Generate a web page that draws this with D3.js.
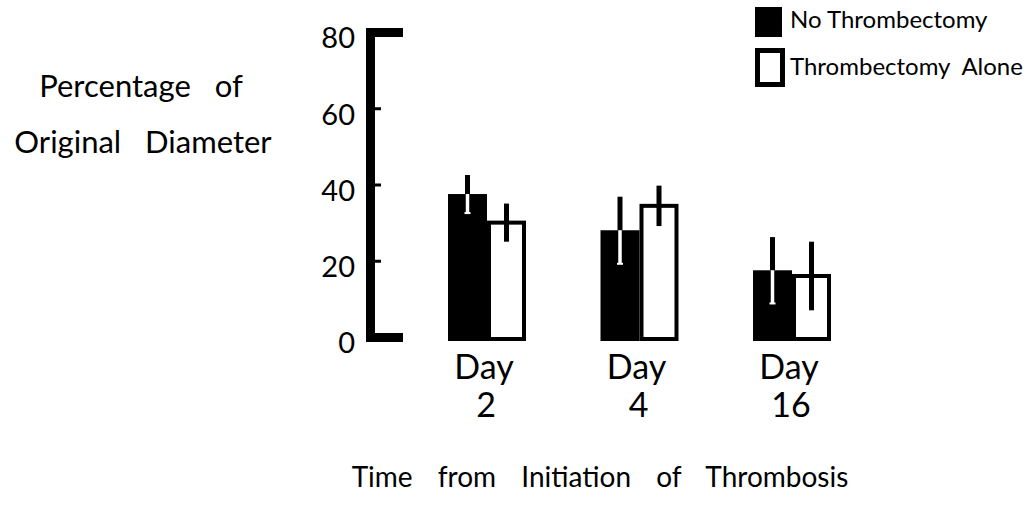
<!DOCTYPE html>
<html>
<head>
<meta charset="utf-8">
<script src="https://cdn.jsdelivr.net/npm/d3@7"></script>
<style>
  html, body { margin: 0; padding: 0; background: #fff; }
  svg { display: block; }
  text { font-family: Lato, "Open Sans", sans-serif; fill: #000; }
</style>
</head>
<body>
<svg id="chart" width="1028" height="505"></svg>
<script>
// Percentage of original vessel diameter at each follow-up day
const days = ["2", "4", "16"];
const seriesNames = ["No Thrombectomy", "Thrombectomy  Alone"];
const noThrombectomy = [37.5, 28, 17.5];
const noThrombectomyErr = [5, 8.8, 8.7];
const thrombectomyAlone = [30, 34.4, 16];
const thrombectomyAloneErr = [5, 5.3, 9];
const yTicks = [0, 20, 40, 60, 80];

const svg = d3.select("#chart");

const y = d3.scaleLinear().domain([0, 80]).range([337, 32]);
const x0 = d3.scalePoint().domain(days).range([488, 793]);
const x1 = d3.scaleBand().domain(seriesNames).range([-40, 38]);

const rows = [];
days.forEach((d, i) => {
  rows.push({ day: d, s: seriesNames[0], v: noThrombectomy[i], e: noThrombectomyErr[i], filled: true });
  rows.push({ day: d, s: seriesNames[1], v: thrombectomyAlone[i], e: thrombectomyAloneErr[i], filled: false });
});

const base = y(0) + 4;

// Bars
const sw = 4;
svg.append("g").selectAll("rect").data(rows).join("rect")
  .attr("x", d => x0(d.day) + x1(d.s) + (d.filled ? 0 : sw / 2))
  .attr("width", d => x1.bandwidth() - (d.filled ? 0 : sw))
  .attr("y", d => y(d.v))
  .attr("height", d => base - (d.filled ? 0 : sw / 2) - y(d.v))
  .attr("fill", d => d.filled ? "#000" : "#fff")
  .attr("stroke", d => d.filled ? "none" : "#000")
  .attr("stroke-width", sw);

// Error bars: black above the bar, white where they cross a filled bar
const eg = svg.append("g");
rows.forEach(d => {
  const cx = x0(d.day) + x1(d.s) + x1.bandwidth() / 2;
  const top = y(d.v + d.e), bot = y(d.v - d.e), mid = y(d.v);
  eg.append("line").attr("x1", cx).attr("x2", cx).attr("y1", top).attr("y2", mid)
    .attr("stroke", "#000").attr("stroke-width", 5);
  eg.append("line").attr("x1", cx).attr("x2", cx).attr("y1", mid).attr("y2", bot)
    .attr("stroke", d.filled ? "#fff" : "#000").attr("stroke-width", d.filled ? 3.5 : 5);
  if (d.filled) {
    eg.append("line").attr("x1", cx - 3).attr("x2", cx + 3).attr("y1", bot).attr("y2", bot)
      .attr("stroke", "#fff").attr("stroke-width", 2);
  }
});

// Y axis: bracket-shaped domain with short inward ticks
const yAxis = d3.axisLeft(y).tickValues(yTicks)
  .tickSizeInner(-11).tickSizeOuter(-33).tickPadding(15);
const ag = svg.append("g").attr("transform", "translate(370,0)").call(yAxis);
ag.select(".domain").attr("stroke", "#000").attr("stroke-width", 9).attr("fill", "none");
ag.selectAll(".tick line").attr("stroke", "#000").attr("stroke-width", 3);
ag.selectAll(".tick text").attr("font-size", 29).attr("dy", "0.55em")
  .attr("font-family", "Lato, sans-serif").attr("fill", "#000");

// Category labels
const xl = svg.append("g");
days.forEach(d => {
  xl.append("text").attr("x", x0(d) - 4).attr("y", 379).attr("text-anchor", "middle")
    .attr("font-size", 34).text("Day");
  xl.append("text").attr("x", x0(d) - 2).attr("y", 417).attr("text-anchor", "middle")
    .attr("font-size", 34).text(d);
});

// Axis titles
svg.append("text").attr("x", 141).attr("y", 97).attr("text-anchor", "middle")
  .attr("font-size", 31).attr("word-spacing", 16).text("Percentage of");
svg.append("text").attr("x", 143).attr("y", 153).attr("text-anchor", "middle")
  .attr("font-size", 31).attr("word-spacing", 16).text("Original Diameter");
svg.append("text").attr("x", 600).attr("y", 487).attr("text-anchor", "middle")
  .attr("font-size", 28).attr("word-spacing", 18).text("Time from Initiation of Thrombosis");

// Legend
const lg = svg.append("g");
lg.append("rect").attr("x", 755).attr("y", 7).attr("width", 27).attr("height", 30).attr("fill", "#000");
lg.append("rect").attr("x", 757.5).attr("y", 50.5).attr("width", 25).attr("height", 34)
  .attr("fill", "#fff").attr("stroke", "#000").attr("stroke-width", 5);
lg.append("text").attr("x", 790).attr("y", 28).attr("font-size", 24).text(seriesNames[0]);
lg.append("text").attr("x", 790).attr("y", 75).attr("font-size", 24)
  .attr("xml:space", "preserve").style("white-space", "pre").text(seriesNames[1]);
</script>
</body>
</html>
